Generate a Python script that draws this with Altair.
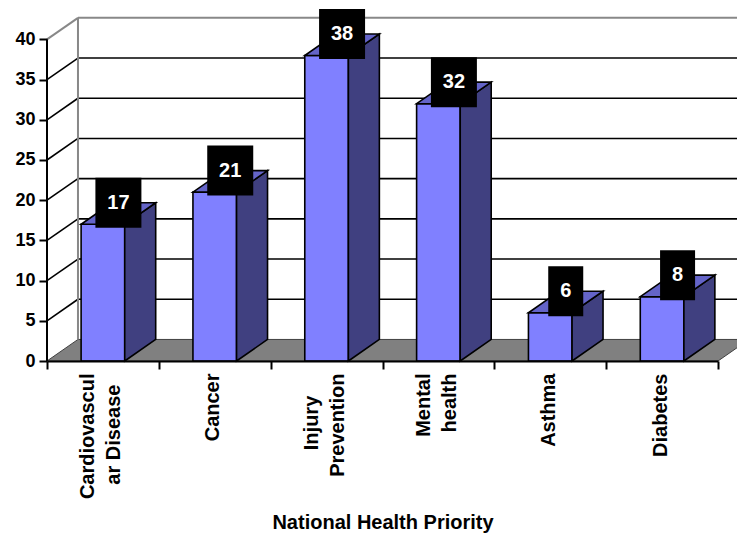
import altair as alt
import pandas as pd

# ---- data ----
x_labels = ["Cardiovascul|ar Disease", "Cancer", "Injury|Prevention", "Mental|health", "Asthma", "Diabetes"]
values = [17, 21, 38, 32, 6, 8]
y_ticks = [0, 5, 10, 15, 20, 25, 30, 35, 40]
x_title = "National Health Priority"

# ---- geometry of the pseudo-3D frame (in data units) ----
N = len(x_labels)
W, H = 690, 345
XR = 671                     # pixel span of the front x axis
YMAX = 42.91                 # y domain so that 40 sits near the top
DX = 0.277                   # depth offset along x (category units)
DY = 2.68                    # depth offset along y (value units)
B0, B1 = 0.305, 0.695        # bar front face within its category
YTOP = y_ticks[-1]

FONT = "Liberation Sans"
FRONT = "#8080FF"
SIDE = "#404080"
TOP = "#6464C8"
FLOOR = "#808080"
GRAY = "#888888"
LFS = 20                     # x label font size
HALF_LH = 13                 # half of the x label line spacing
NBSP = "\u00a0"
ZW = "\u200b"                # zero-width char: keeps padded lines from being trimmed
BLANK = "\u2800"             # blank spacer line (not trimmed away)

# Arial/Liberation Sans Bold advance widths (per 1000 em) for label layout
ADV = {" ": 278, "A": 722, "C": 722, "D": 722, "I": 278, "M": 833, "P": 667,
       "a": 556, "b": 611, "c": 556, "d": 611, "e": 556, "h": 611, "i": 278,
       "j": 278, "l": 278, "m": 889, "n": 611, "o": 611, "r": 389, "s": 556,
       "t": 333, "u": 611, "v": 556, "y": 556}


def text_px(s, size):
    return sum(ADV.get(ch, 556) for ch in s) * size / 1000.0


yscale = alt.Scale(domain=[0, YMAX], nice=False, zero=True)
xq = alt.Scale(domain=[0, N], range=[0, XR], nice=False, zero=False)
yaxis = alt.Axis(
    values=y_ticks, domain=False, grid=False, tickSize=8, tickWidth=2,
    tickColor="black", labelFont=FONT, labelFontSize=18,
    labelFontWeight="bold", labelColor="black", labelPadding=4,
    title=None, zindex=2,
)


def X(f="x"):
    return alt.X(f"{f}:Q", scale=xq, axis=None)


def Y(f="y"):
    return alt.Y(f"{f}:Q", scale=yscale, axis=yaxis)


# ---- wrapped x labels: lines centred on each other, block centred on its category ----
def display_label(lbl):
    parts = lbl.split("|")
    if len(parts) == 1:
        return BLANK + "|" + parts[0]
    longest = max(text_px(p, LFS) for p in parts)
    sp = text_px(" ", LFS)
    padded = []
    for p in parts:
        n = int(round((longest - text_px(p, LFS)) / 2 / sp))
        padded.append(p + NBSP * n + ZW if n else p)
    return padded[0] + "|" + BLANK + "|" + padded[1]


disp = [display_label(l) for l in x_labels]
cat_df = pd.DataFrame({"label": disp})
axis_layer = alt.Chart(cat_df).mark_tick(opacity=0).encode(
    x=alt.X(
        "label:N",
        sort=disp,
        scale=alt.Scale(range=[0, XR], paddingInner=0, paddingOuter=0),
        axis=alt.Axis(
            title=x_title,
            tickBand="extent",
            labelExpr="split(datum.label, '|')",
            labelAngle=-90,
            labelAlign="right",
            labelBaseline="middle",
            labelFont=FONT,
            labelFontSize=LFS,
            labelFontWeight="bold",
            labelColor="black",
            labelLineHeight=HALF_LH,
            labelOffset=-15,
            labelPadding=4,
            labelLimit=400,
            tickSize=8,
            tickWidth=2,
            tickColor="black",
            domainColor="black",
            domainWidth=2,
            titleFont=FONT,
            titleFontSize=20,
            titleFontWeight="bold",
            titleColor="black",
            titlePadding=14,
            zindex=2,
        ),
    )
)

# ---- floor ----
floor_df = pd.DataFrame({"y": [0, DY], "x": [0, DX], "x2": [N, N + DX]})
floor = alt.Chart(floor_df).mark_area(
    orient="horizontal", fill=FLOOR, stroke="#404040", strokeWidth=1
).encode(y=Y("y"), x=X("x"), x2="x2:Q")

# ---- walls ----
inner = y_ticks[1:-1]
back_grid = alt.Chart(pd.DataFrame({
    "x": [DX] * len(inner), "x2": [N + DX] * len(inner), "y": [t + DY for t in inner]
})).mark_rule(color="black", strokeWidth=1.6).encode(x=X("x"), x2="x2:Q", y=Y("y"))

side_grid = alt.Chart(pd.DataFrame({
    "x": [0] * len(inner), "x2": [DX] * len(inner),
    "y": inner, "y2": [t + DY for t in inner]
})).mark_rule(color="black", strokeWidth=1.6).encode(x=X("x"), x2="x2:Q", y=Y("y"), y2="y2:Q")

frame_df = pd.DataFrame({
    "x": [DX, 0, DX],
    "x2": [N + DX, DX, DX],
    "y": [YTOP + DY, YTOP, DY],
    "y2": [YTOP + DY, YTOP + DY, YTOP + DY],
})
frame = alt.Chart(frame_df).mark_rule(color=GRAY, strokeWidth=2).encode(
    x=X("x"), x2="x2:Q", y=Y("y"), y2="y2:Q"
)

y_axis_line = alt.Chart(pd.DataFrame({"x": [0], "y": [0], "y2": [YTOP]})).mark_rule(
    color="black", strokeWidth=2
).encode(x=X("x"), y=Y("y"), y2="y2:Q")

# ---- bars ----
front_df = pd.DataFrame({
    "x": [i + B0 for i in range(N)], "x2": [i + B1 for i in range(N)],
    "y": [0] * N, "y2": values,
})
front = alt.Chart(front_df).mark_rect(fill=FRONT, stroke="black", strokeWidth=1.6).encode(
    x=X("x"), x2="x2:Q", y=Y("y"), y2="y2:Q"
)

side_rows = []
top_rows = []
for i, v in enumerate(values):
    side_rows.append({"bar": i, "x": i + B1, "y": 0, "y2": v})
    side_rows.append({"bar": i, "x": i + B1 + DX, "y": DY, "y2": v + DY})
    top_rows.append({"bar": i, "y": v, "x": i + B0, "x2": i + B1})
    top_rows.append({"bar": i, "y": v + DY, "x": i + B0 + DX, "x2": i + B1 + DX})

side = alt.Chart(pd.DataFrame(side_rows)).mark_area(
    orient="vertical", fill=SIDE, stroke="black", strokeWidth=1.6
).encode(x=X("x"), y=Y("y"), y2="y2:Q", detail="bar:N")

top = alt.Chart(pd.DataFrame(top_rows)).mark_area(
    orient="horizontal", fill=TOP, stroke="black", strokeWidth=1.6
).encode(y=Y("y"), x=X("x"), x2="x2:Q", detail="bar:N")

# ---- data labels (black boxes with white numbers) ----
PXX = XR / N
PXY = H / YMAX
lab_rows = []
for i, v in enumerate(values):
    w = (46 if len(str(v)) > 1 else 35) / PXX
    h = 50 / PXY
    cx = i + 0.5 + DX / 2
    cy = v + DY
    lab_rows.append({"x": cx - w / 2, "x2": cx + w / 2, "y": cy - h / 2, "y2": cy + h / 2,
                     "cx": cx, "cy": cy, "txt": str(v)})
lab_df = pd.DataFrame(lab_rows)
boxes = alt.Chart(lab_df).mark_rect(fill="black").encode(x=X("x"), x2="x2:Q", y=Y("y"), y2="y2:Q")
texts = alt.Chart(lab_df).mark_text(
    color="white", font=FONT, fontSize=20, fontWeight="bold", align="center", baseline="middle"
).encode(x=X("cx"), y=Y("cy"), text="txt:N")

chart = alt.layer(
    axis_layer, floor, back_grid, side_grid, frame, y_axis_line,
    front, side, top, boxes, texts,
).resolve_scale(x="independent").properties(
    width=W, height=H,
    autosize=alt.AutoSizeParams(type="none"),
    padding={"left": 47, "top": 16, "right": 0, "bottom": 174},
).configure_view(strokeWidth=0)

chart.save("out.html", embed_options={"renderer": "svg", "actions": False})
